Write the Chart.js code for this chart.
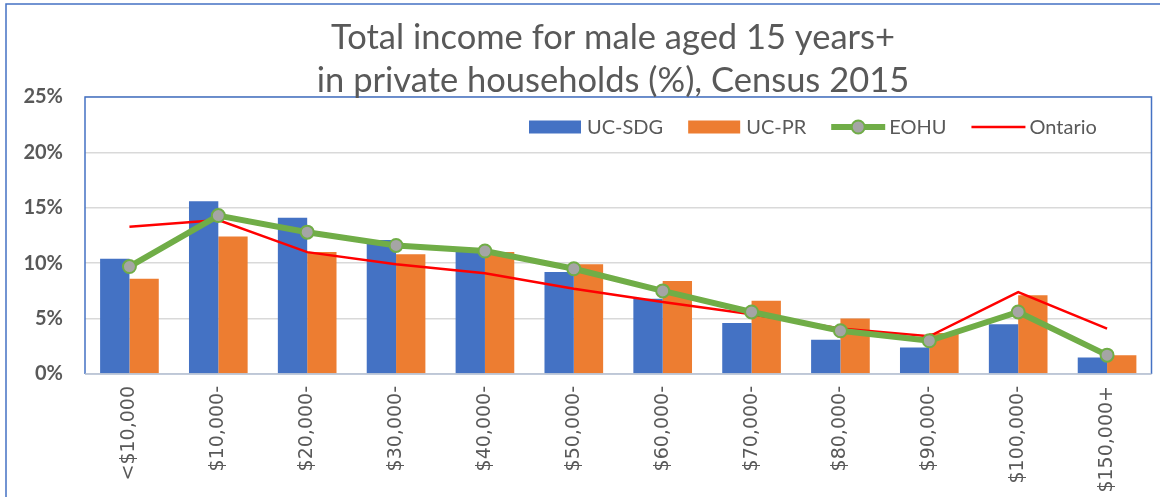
<!DOCTYPE html>
<html>
<head>
<meta charset="utf-8">
<title>Total income for male aged 15 years+</title>
<script src="https://cdn.jsdelivr.net/npm/chart.js@4.4.0/dist/chart.umd.min.js"></script>
<style>
  html, body { margin: 0; padding: 0; background: #fff; }
  #grafico { display: block; }
</style>
</head>
<body>
<canvas id="grafico" width="1160" height="497"></canvas>
<script>
// datos (%)
const categorias = ["<$10,000", "$10,000-", "$20,000-", "$30,000-", "$40,000-", "$50,000-",
    "$60,000-", "$70,000-", "$80,000-", "$90,000-", "$100,000-", "$150,000+"];
const ucSdg = [10.4, 15.6, 14.1, 12.1, 11.0, 9.2, 6.8, 4.6, 3.1, 2.4, 4.5, 1.5];
const ucPr = [8.6, 12.4, 11.0, 10.8, 11.0, 9.9, 8.4, 6.6, 5.0, 3.7, 7.1, 1.7];
const eohu = [9.7, 14.3, 12.8, 11.6, 11.1, 9.5, 7.5, 5.6, 3.9, 3.0, 5.6, 1.7];
const ontario = [13.3, 13.9, 11.0, 9.9, 9.1, 7.7, 6.5, 5.4, 4.1, 3.4, 7.4, 4.1];
const ticksY = [0, 5, 10, 15, 20, 25];
const titulo = ["Total income for male aged 15 years+", "in private households (%), Census 2015"];

const d = document;
const gris = "#595959";
const azul = "#4472C4";

Chart.defaults.font.family = "Lato";
Chart.defaults.color = gris;

// borde, titulo y leyenda al estilo Excel
const marcoPlugin = {
    id: "marco",
    beforeDraw: (chart) => {
        const ctx = chart.ctx;
        ctx.save();
        ctx.fillStyle = "#fff";
        ctx.fillRect(0, 0, chart.width, chart.height);
        ctx.restore();
    },
    afterDraw: (chart) => {
        const ctx = chart.ctx;
        const a = chart.chartArea;
        ctx.save();
        // borde exterior
        ctx.strokeStyle = azul;
        ctx.lineWidth = 1.5;
        ctx.strokeRect(6, 4, chart.width + 20, chart.height + 20);
        // borde del area de trazado
        ctx.beginPath();
        ctx.moveTo(a.left, a.bottom);
        ctx.lineTo(a.left, a.top);
        ctx.lineTo(a.right, a.top);
        ctx.lineTo(a.right, a.bottom);
        ctx.stroke();
        ctx.strokeStyle = "#b4c0d4";
        ctx.beginPath();
        ctx.moveTo(a.left, a.bottom);
        ctx.lineTo(a.right, a.bottom);
        ctx.stroke();

        // titulo
        ctx.fillStyle = gris;
        ctx.font = "34.5px Lato";
        ctx.textAlign = "center";
        ctx.textBaseline = "alphabetic";
        ctx.fillText(titulo[0], 613, 49);
        ctx.fillText(titulo[1], 613, 92);

        // leyenda
        ctx.font = "20px Lato";
        ctx.textAlign = "left";
        ctx.textBaseline = "middle";
        let x = 529;
        const y = a.top + 30;
        chart.data.datasets.forEach(ds => {
            if (ds.type === "line") {
                ctx.strokeStyle = ds.borderColor;
                ctx.lineWidth = ds.borderWidth;
                ctx.beginPath();
                ctx.moveTo(x, y);
                ctx.lineTo(x + 54, y);
                ctx.stroke();
                if (ds.pointRadius > 0) {
                    ctx.beginPath();
                    ctx.arc(x + 27, y, ds.pointRadius, 0, Math.PI * 2);
                    ctx.fillStyle = ds.pointBackgroundColor;
                    ctx.fill();
                    ctx.lineWidth = ds.pointBorderWidth;
                    ctx.strokeStyle = ds.pointBorderColor;
                    ctx.stroke();
                }
                x += 58;
            } else {
                ctx.fillStyle = ds.backgroundColor;
                ctx.fillRect(x, y - 6.5, 52, 13);
                x += 58;
            }
            ctx.fillStyle = gris;
            ctx.fillText(ds.label, x, y + 1);
            x += ctx.measureText(ds.label).width + 25;
        });
        ctx.restore();
    }
};

const ctx1 = d.getElementById("grafico");
const grafico = new Chart(ctx1, {
    data: {
        labels: categorias,
        datasets: [
            {
                type: "bar",
                label: "UC-SDG",
                data: ucSdg,
                backgroundColor: azul,
                order: 3,
            },
            {
                type: "bar",
                label: "UC-PR",
                data: ucPr,
                backgroundColor: "#ED7D31",
                order: 3,
            },
            {
                type: "line",
                label: "EOHU",
                data: eohu,
                borderColor: "#70AD47",
                borderWidth: 6,
                pointRadius: 6.5,
                pointBackgroundColor: "#A5A5A5",
                pointBorderColor: "#70AD47",
                pointBorderWidth: 2,
                tension: 0,
                order: 1,
            },
            {
                type: "line",
                label: "Ontario",
                data: ontario,
                borderColor: "#FF0000",
                borderWidth: 2.5,
                pointRadius: 0,
                tension: 0,
                order: 2,
            },
        ],
    },
    plugins: [marcoPlugin],
    options: {
        responsive: false,
        animation: false,
        datasets: {
            bar: {
                categoryPercentage: 0.66,
                barPercentage: 1,
            },
        },
        layout: {
            padding: { top: 97, right: 3, left: 0, bottom: 0 },
        },
        plugins: {
            legend: { display: false },
            title: { display: false },
            tooltip: { enabled: false },
        },
        scales: {
            x: {
                grid: { display: false, drawTicks: false },
                border: { display: false },
                ticks: {
                    minRotation: 90,
                    maxRotation: 90,
                    padding: 12,
                    color: gris,
                    font: { family: "DejaVu Sans", size: 19 },
                },
                afterFit: (scale) => { scale.height = 123; },
            },
            y: {
                min: 0,
                max: 25,
                grid: { color: "#d9d9d9", lineWidth: 1.5, drawTicks: false },
                border: { display: false },
                afterBuildTicks: (scale) => {
                    scale.ticks = ticksY.map(v => ({ value: v }));
                },
                ticks: {
                    padding: 22,
                    color: gris,
                    font: { family: "Lato", size: 20, weight: "bold" },
                    callback: (v) => v + "%",
                },
                afterFit: (scale) => { scale.width = 85; },
            },
        },
    },
});
</script>
</body>
</html>
